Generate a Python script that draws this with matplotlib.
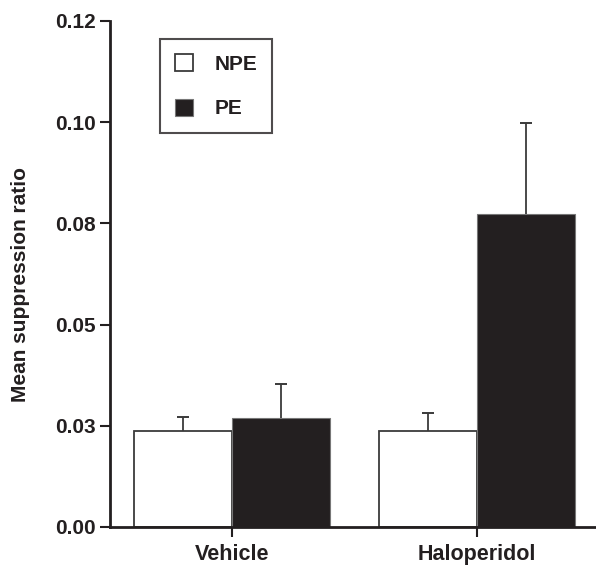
import numpy as np
import matplotlib
matplotlib.use("Agg")
import matplotlib.pyplot as plt

# data
groups = ["Vehicle", "Haloperidol"]
npe_means = [0.0237, 0.0237]
npe_sem = [0.0035, 0.0044]
pe_means = [0.0269, 0.0773]
pe_sem = [0.0084, 0.0225]
ytick_vals = [0.0, 0.025, 0.05, 0.075, 0.10, 0.125]
ytick_labels = ["0.00", "0.03", "0.05", "0.08", "0.10", "0.12"]

dark = "#231f20"
plt.rcParams['font.family'] = ['Liberation Sans', 'DejaVu Sans']
plt.rcParams['font.weight'] = 'bold'

fig = plt.figure(figsize=(5.96, 5.65), dpi=100)
ax = fig.add_axes([110 / 596, 1 - 527 / 565, 486 / 596, 506 / 565])

x = np.arange(len(groups))
w = 0.4
b1 = ax.bar(x - w / 2, npe_means, w, color="white", edgecolor="#3a3a3a",
            linewidth=1.3, label="NPE", zorder=2)
b2 = ax.bar(x + w / 2, pe_means, w, color=dark, edgecolor="#777777",
            linewidth=0.8, label="PE", zorder=2)

# upper-only error bars (no cap at the bar top)
for xs, m, e in [(x - w / 2, npe_means, npe_sem), (x + w / 2, pe_means, pe_sem)]:
    m = np.array(m)
    e = np.array(e)
    ax.vlines(xs, m, m + e, color="#3a3a3a", linewidth=1.3, zorder=3)
    ax.plot(xs, m + e, linestyle='none', marker='_', markersize=9,
            markeredgewidth=1.4, color="#3a3a3a", zorder=3)

ax.set_xlim(-0.498, 1.486)
ax.set_ylim(0, 0.125)
ax.set_yticks(ytick_vals)
ax.set_yticklabels(ytick_labels)
ax.set_xticks(x)
ax.set_xticklabels(groups)
ax.tick_params(axis='both', labelsize=15, width=1.5, length=7, color=dark, labelcolor=dark)
ax.tick_params(axis='y', pad=3)
ax.tick_params(axis='x', pad=5, labelsize=15.5)
for lab in ax.get_xticklabels() + ax.get_yticklabels():
    lab.set_fontweight('bold')

ax.spines['top'].set_visible(False)
ax.spines['right'].set_visible(False)
for s in ['left', 'bottom']:
    ax.spines[s].set_linewidth(2)
    ax.spines[s].set_color(dark)

ax.set_ylabel("Mean suppression ratio", fontsize=15, fontweight='bold', color=dark)
ax.yaxis.set_label_coords(-0.165, 0.479)

leg = ax.legend(handles=[b1, b2], loc='upper left', bbox_to_anchor=(0.103, 0.964),
                frameon=True, fancybox=False, fontsize=15, handlelength=0.9,
                handleheight=0.9, handletextpad=1.0, labelspacing=1.2,
                borderpad=0.7, borderaxespad=0)
leg.get_frame().set_edgecolor(dark)
leg.get_frame().set_linewidth(1.5)
for t in leg.get_texts():
    t.set_fontweight('bold')
    t.set_color(dark)

fig.savefig("out.png", dpi=100)
